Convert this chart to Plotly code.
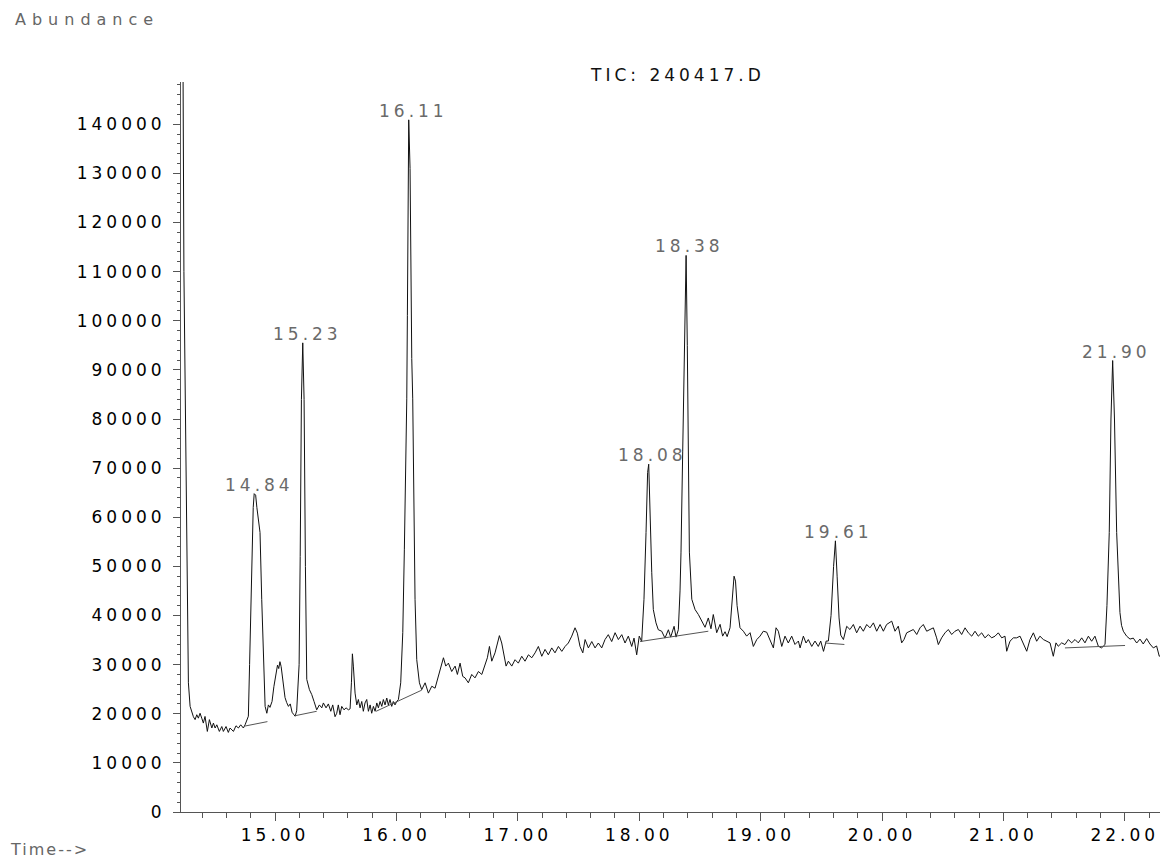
import plotly.graph_objects as go

# ---------------- data ----------------
tic_time = [
    14.225, 14.242, 14.249, 14.259, 14.273, 14.279, 14.286, 14.300, 14.316, 14.327,
    14.341, 14.355, 14.368, 14.382, 14.396, 14.409, 14.423, 14.442, 14.459, 14.479,
    14.492, 14.506, 14.520, 14.541, 14.561, 14.574, 14.596, 14.615, 14.629, 14.657,
    14.678, 14.698, 14.717, 14.739, 14.753, 14.772, 14.780, 14.790, 14.805, 14.820,
    14.828, 14.840, 14.850, 14.876, 14.890, 14.904, 14.918, 14.932, 14.945, 14.958,
    14.975, 14.990, 15.005, 15.020, 15.030, 15.040, 15.050, 15.065, 15.082, 15.095,
    15.110, 15.125, 15.140, 15.155, 15.165, 15.178, 15.190, 15.198, 15.207, 15.217,
    15.228, 15.239, 15.250, 15.261, 15.283, 15.302, 15.321, 15.343, 15.365, 15.385,
    15.398, 15.420, 15.439, 15.459, 15.475, 15.494, 15.508, 15.521, 15.535, 15.549,
    15.568, 15.585, 15.604, 15.618, 15.629, 15.637, 15.645, 15.659, 15.673, 15.686,
    15.700, 15.714, 15.727, 15.741, 15.755, 15.769, 15.783, 15.796, 15.810, 15.824,
    15.838, 15.851, 15.865, 15.879, 15.892, 15.906, 15.920, 15.933, 15.947, 15.961,
    15.974, 15.988, 16.002, 16.016, 16.035, 16.052, 16.065, 16.079, 16.085, 16.090,
    16.096, 16.101, 16.112, 16.117, 16.126, 16.134, 16.145, 16.153, 16.167, 16.189,
    16.208, 16.236, 16.263, 16.291, 16.318, 16.345, 16.373, 16.387, 16.406, 16.428,
    16.455, 16.483, 16.502, 16.524, 16.546, 16.565, 16.592, 16.620, 16.647, 16.675,
    16.703, 16.730, 16.749, 16.766, 16.785, 16.812, 16.848, 16.867, 16.886, 16.903,
    16.922, 16.950, 16.977, 17.004, 17.032, 17.059, 17.087, 17.115, 17.142, 17.169,
    17.197, 17.224, 17.251, 17.279, 17.306, 17.334, 17.362, 17.389, 17.416, 17.444,
    17.471, 17.490, 17.512, 17.535, 17.554, 17.581, 17.609, 17.636, 17.663, 17.691,
    17.718, 17.745, 17.773, 17.801, 17.828, 17.856, 17.883, 17.910, 17.938, 17.957,
    17.979, 18.000, 18.020, 18.039, 18.056, 18.069, 18.078, 18.089, 18.103, 18.116,
    18.138, 18.157, 18.185, 18.212, 18.240, 18.259, 18.287, 18.303, 18.322, 18.336,
    18.344, 18.358, 18.373, 18.386, 18.396, 18.405, 18.413, 18.433, 18.460, 18.487,
    18.515, 18.542, 18.569, 18.591, 18.610, 18.638, 18.666, 18.687, 18.707, 18.724,
    18.748, 18.769, 18.781, 18.793, 18.806, 18.830, 18.858, 18.885, 18.913, 18.940,
    18.968, 18.995, 19.022, 19.050, 19.077, 19.105, 19.127, 19.146, 19.174, 19.201,
    19.228, 19.256, 19.283, 19.311, 19.325, 19.352, 19.374, 19.393, 19.421, 19.448,
    19.475, 19.495, 19.518, 19.540, 19.558, 19.580, 19.601, 19.616, 19.630, 19.646,
    19.660, 19.682, 19.709, 19.736, 19.764, 19.791, 19.819, 19.846, 19.874, 19.901,
    19.929, 19.956, 19.984, 20.011, 20.038, 20.080, 20.107, 20.134, 20.162, 20.181,
    20.203, 20.231, 20.258, 20.286, 20.313, 20.340, 20.368, 20.395, 20.423, 20.450,
    20.464, 20.491, 20.519, 20.546, 20.574, 20.601, 20.629, 20.656, 20.684, 20.711,
    20.739, 20.766, 20.793, 20.821, 20.848, 20.876, 20.903, 20.931, 20.958, 20.986,
    21.013, 21.027, 21.054, 21.082, 21.109, 21.137, 21.164, 21.192, 21.219, 21.247,
    21.274, 21.301, 21.329, 21.356, 21.384, 21.411, 21.433, 21.452, 21.480, 21.507,
    21.535, 21.562, 21.590, 21.617, 21.645, 21.672, 21.700, 21.727, 21.754, 21.782,
    21.809, 21.837, 21.853, 21.872, 21.886, 21.900, 21.915, 21.933, 21.946, 21.960,
    21.973, 21.988, 22.015, 22.043, 22.070, 22.098, 22.125, 22.152, 22.180, 22.207,
    22.235, 22.262, 22.284, 22.300,
]
tic_abundance = [
    175000, 150000, 110000, 84000, 57000, 37000, 26300, 21500, 20000, 19400,
    18800, 19800, 19100, 20100, 19100, 18100, 19450, 16400, 18800, 17100,
    18100, 17100, 17750, 16400, 17400, 16400, 17400, 16200, 17100, 16400,
    17550, 17100, 17750, 17100, 17750, 19000, 19500, 30000, 50000, 62000,
    64800, 64500, 62000, 56900, 43300, 29700, 21500, 20100, 21800, 21300,
    22500, 25500, 28000, 29900, 29200, 30600, 29600, 26900, 23300, 22300,
    21500, 22000, 20300, 19800, 19500, 20600, 25000, 30000, 52000, 84000,
    95500, 84000, 50000, 27000, 24900, 23900, 22500, 20800, 21800, 21200,
    22200, 21200, 22000, 20500, 21800, 19400, 20100, 21800, 19800, 21500,
    20800, 21200, 20800, 21000, 26300, 32200, 29700, 24200, 21800, 22900,
    21200, 22500, 20500, 22200, 22900, 20500, 21800, 20100, 21500, 20500,
    22200, 21200, 22500, 21500, 22900, 21800, 23200, 21800, 22900, 21500,
    22500, 21800, 22500, 22900, 26300, 36500, 53500, 70500, 84100, 101100,
    129700, 140900, 131000, 114000, 92300, 84100, 63700, 43300, 31000, 26300,
    24900, 26300, 24200, 25600, 25200, 27600, 29700, 31400, 29700, 30300,
    28600, 29700, 28000, 30300, 27600, 27300, 26300, 28000, 27300, 28600,
    28000, 30000, 31400, 33700, 30700, 32400, 35900, 34400, 31400, 29700,
    30700, 29700, 31000, 30300, 31700, 30700, 32000, 31400, 32400, 33700,
    31700, 33100, 32000, 33400, 32400, 33700, 32700, 33700, 34400, 35800,
    37500, 36400, 33700, 32400, 35100, 33400, 34700, 33400, 34400, 33400,
    35100, 36100, 34700, 36500, 35100, 36100, 34400, 35800, 33700, 35400,
    32000, 35800, 34700, 43300, 56900, 69100, 70800, 60300, 48700, 41200,
    38500, 37100, 36800, 35400, 37100, 35600, 37800, 35600, 37100, 45000,
    52900, 73300, 100000, 113300, 95000, 76500, 52900, 43300, 41200, 40200,
    39000, 37600, 39500, 37300, 40200, 36500, 38200, 35800, 36700, 35700,
    37500, 45000, 48000, 47000, 42000, 37500, 36800, 35800, 36500, 33700,
    35100, 35800, 36800, 36600, 35100, 33400, 37500, 36800, 33700, 35800,
    34400, 35800, 34100, 34800, 33400, 35800, 34400, 35100, 33700, 34800,
    33700, 34800, 32700, 34800, 34800, 40000, 50000, 55200, 48000, 39500,
    36000, 35100, 37800, 37150, 38170, 36470, 37830, 36800, 38170, 37490,
    38500, 36800, 38170, 36800, 38170, 38850, 36800, 37830, 34430, 35110,
    36470, 36800, 37150, 36130, 37490, 38170, 36800, 37150, 37490, 35450,
    34080, 35450, 36470, 37150, 36130, 36800, 37150, 36130, 37490, 36470,
    35790, 36800, 35790, 36470, 35450, 36130, 35450, 35790, 36470, 35450,
    35790, 32720, 34760, 35450, 35450, 35790, 34080, 32720, 35110, 36470,
    34760, 35790, 35110, 34760, 34430, 31700, 34430, 33740, 34430, 34080,
    35110, 34430, 35110, 34430, 35450, 34430, 35790, 34760, 35790, 33740,
    33410, 34080, 42000, 56900, 80000, 91900, 80000, 56900, 48000, 40600,
    38000, 36800, 35800, 35200, 35400, 34400, 35200, 34200, 35300, 34200,
    33400, 33800, 31700, 32000,
]

# integration baselines (start time, start abundance, end time, end abundance)
bl_t0 = [14.753, 15.165, 15.832, 18.007, 19.530, 21.507]
bl_a0 = [17500, 19600, 20500, 34700, 34400, 33400]
bl_t1 = [14.937, 15.343, 16.208, 18.569, 19.690, 22.002]
bl_a1 = [18400, 20500, 24800, 36800, 34100, 33900]

# labelled peaks
peak_labels = ["14.84", "15.23", "16.11", "18.08", "18.38", "19.61", "21.90"]
peak_apex = [64800, 95500, 140900, 70800, 113300, 55200, 91900]

# axis ticks
x_tick_vals = [15, 16, 17, 18, 19, 20, 21, 22]
x_tick_text = ["15.00", "16.00", "17.00", "18.00", "19.00", "20.00", "21.00", "22.00"]
y_tick_vals = [0, 10000, 20000, 30000, 40000, 50000, 60000, 70000,
               80000, 90000, 100000, 110000, 120000, 130000, 140000]
y_tick_text = [str(v) for v in y_tick_vals]

x_range = [14.225, 22.29]
y_range = [0, 148600]

# ---------------- figure ----------------
FONT = "DejaVu Sans"


def wide(s, ls=4):
    return '<span style="letter-spacing:%dpx">%s</span>' % (ls, s)


fig = go.Figure()

fig.add_trace(go.Scatter(
    x=tic_time, y=tic_abundance, mode="lines",
    line=dict(color="#111111", width=1), showlegend=False, hoverinfo="skip",
))

bx, by = [], []
for t0, a0, t1, a1 in zip(bl_t0, bl_a0, bl_t1, bl_a1):
    bx += [t0, t1, None]
    by += [a0, a1, None]
fig.add_trace(go.Scatter(
    x=bx, y=by, mode="lines", line=dict(color="#555555", width=1),
    showlegend=False, hoverinfo="skip",
))

for lab, apex in zip(peak_labels, peak_apex):
    fig.add_annotation(
        x=float(lab), y=apex, text=wide(lab, 4), showarrow=False,
        xanchor="center", yanchor="bottom", xshift=4, yshift=-3,
        font=dict(family=FONT, size=17, color="#6a6a6a"),
    )

fig.add_annotation(
    x=0.507, y=1.0096, xref="paper", yref="paper", text=wide("TIC: 240417.D", 4),
    showarrow=False, xanchor="center", yanchor="middle",
    font=dict(family=FONT, size=17, color="#111111"),
)
fig.add_annotation(
    x=-0.1716, y=1.085, xref="paper", yref="paper", text=wide("Abundance", 6),
    showarrow=False, xanchor="left", yanchor="middle",
    font=dict(family=FONT, size=16, color="#666666"),
)
fig.add_annotation(
    x=-0.1765, y=-0.052, xref="paper", yref="paper", text=wide("Time-->", 2),
    showarrow=False, xanchor="left", yanchor="middle",
    font=dict(family=FONT, size=16, color="#666666"),
)

axis_col = "#555555"
fig.update_xaxes(
    range=x_range, showgrid=False, zeroline=False,
    showline=True, linecolor=axis_col, linewidth=1,
    ticks="outside", ticklen=8, tickcolor=axis_col, tickwidth=1,
    tickmode="array", tickvals=x_tick_vals,
    ticktext=[wide(t, 4) for t in x_tick_text],
    minor=dict(ticks="outside", ticklen=5, tickcolor=axis_col, tick0=15, dtick=0.2),
    tickfont=dict(family=FONT, size=17, color="#000000"),
)
fig.update_yaxes(
    range=y_range, showgrid=False, zeroline=False,
    showline=True, linecolor=axis_col, linewidth=1,
    ticks="outside", ticklen=7, tickcolor=axis_col, tickwidth=1,
    tickmode="array", tickvals=y_tick_vals,
    ticktext=[wide(t, 4) for t in y_tick_text],
    minor=dict(ticks="outside", ticklen=3, tickcolor=axis_col, tick0=0, dtick=2000),
    tickfont=dict(family=FONT, size=17, color="#000000"),
    ticklabelstandoff=4,
)
fig.update_layout(
    width=1160, height=862,
    margin=dict(l=181, r=0, t=82, b=50, pad=0),
    paper_bgcolor="white", plot_bgcolor="white",
)

fig.write_html(
    "out.html",
    config={"displayModeBar": False},
    post_script="document.body.style.margin='0';document.body.style.padding='0';"
                "document.body.style.overflow='hidden';",
)
